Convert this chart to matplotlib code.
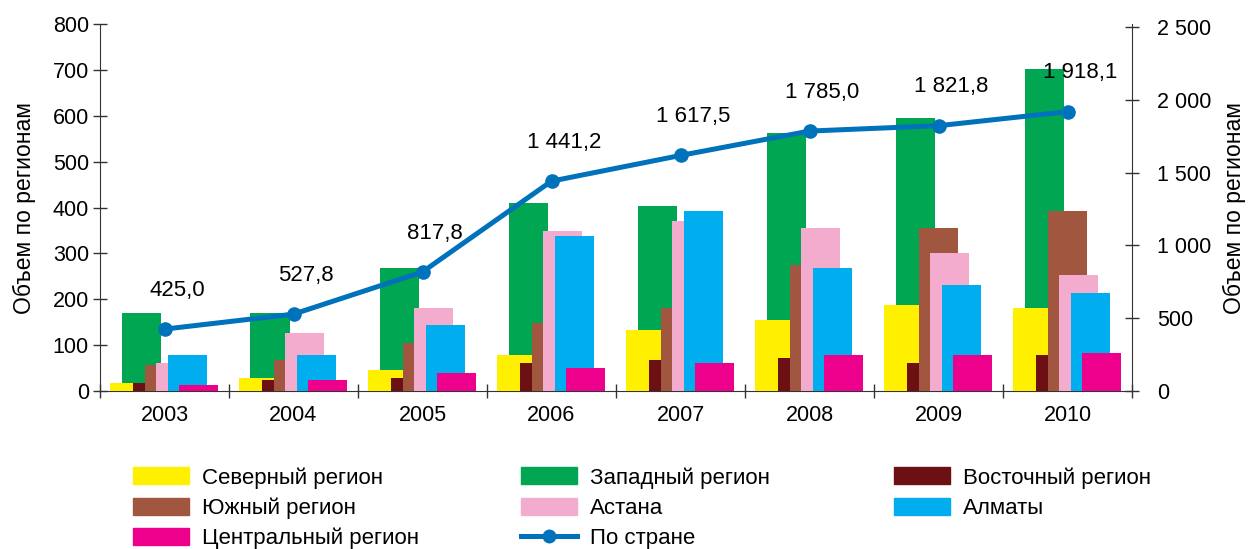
import numpy as np
import matplotlib
matplotlib.use("Agg")
import matplotlib.pyplot as plt
from matplotlib.patches import Patch
from matplotlib.lines import Line2D

plt.rcParams['font.family'] = ['Liberation Sans', 'DejaVu Sans']

years = ['2003', '2004', '2005', '2006', '2007', '2008', '2009', '2010']

# values per region
west = [170, 170, 269, 410, 404, 563, 596, 703]
north = [17, 28, 46, 79, 133, 155, 188, 181]
east = [18, 24, 28, 61, 68, 72, 61, 79]
south = [57, 68, 105, 148, 181, 275, 356, 393]
astana = [61, 127, 181, 349, 371, 356, 301, 253]
almaty = [79, 79, 144, 338, 393, 269, 231, 214]
central = [13, 24, 39, 50, 61, 79, 79, 83]
country = [425.0, 527.8, 817.8, 1441.2, 1617.5, 1785.0, 1821.8, 1918.1]

line_name = 'По стране'

colors = {
    'north': '#fff000', 'west': '#00a651', 'east': '#6d1013',
    'south': '#a1563f', 'astana': '#f4acce', 'almaty': '#00aeef',
    'central': '#ec008c',
}
labels = {
    'north': 'Северный регион', 'west': 'Западный регион', 'east': 'Восточный регион',
    'south': 'Южный регион', 'astana': 'Астана', 'almaty': 'Алматы',
    'central': 'Центральный регион',
}
line_color = '#0072bc'

fig = plt.figure(figsize=(12.5, 5.49), dpi=100)
ax = fig.add_axes([0.08, 0.2878, 0.8256, 0.6679])
ax2 = ax.twinx()

x = np.arange(len(years))
w = 39 / 129.0
step = 11.5 / 129.0
first = 10 / 129.0

# drawing order (back to front) with slot position in the group
series = [
    (west, 'west', 1),
    (north, 'north', 0),
    (east, 'east', 2),
    (south, 'south', 3),
    (astana, 'astana', 4),
    (almaty, 'almaty', 5),
    (central, 'central', 6),
]
for i, (vals, key, slot) in enumerate(series):
    ax.bar(x + first + slot * step, vals, width=w, align='edge', color=colors[key],
           linewidth=0, zorder=2 + i)

ax.set_xlim(0, len(years))
ax.set_ylim(0, 800)
ax.set_yticks(range(0, 801, 100))
ax.set_xticks(range(0, len(years) + 1))
ax.set_xticklabels([])
ax.set_xticks(x + 0.5, minor=True)
ax.set_xticklabels(years, minor=True)
ax.tick_params(axis='x', which='major', direction='inout', length=10, width=1, color='#333333')
ax.tick_params(axis='x', which='minor', length=0, pad=10, labelsize=15.5)
ax.tick_params(axis='y', direction='inout', length=10, width=1, color='#333333', pad=3, labelsize=15.5)
ax.spines['top'].set_visible(False)
ax.spines['right'].set_visible(False)
for s in ['left', 'bottom']:
    ax.spines[s].set_color('#333333')
ax.set_ylabel('Объем по регионам', fontsize=16.5, labelpad=12)

# country total on right axis
ax2.plot(x + 0.5, country, color=line_color, linewidth=3.6, marker='o',
         markersize=9.5, zorder=10)
for xi, v in zip(x + 0.5, country):
    txt = f"{v:,.1f}".replace(',', ' ').replace('.', ',')
    ax2.annotate(txt, (xi, v), xytext=(9, 28), textcoords='offset points',
                 ha='center', va='center', fontsize=16)
ax2.set_ylim(0, 2518)
rticks = list(range(0, 2501, 500))
ax2.set_yticks(rticks)
ax2.set_yticklabels([f"{t:,}".replace(',', ' ') for t in rticks])
ax2.tick_params(axis='y', direction='inout', length=10, width=1, color='#333333', pad=13, labelsize=15.5)
ax2.spines['top'].set_visible(False)
ax2.spines['left'].set_visible(False)
ax2.spines['bottom'].set_visible(False)
ax2.spines['right'].set_color('#333333')
ax2.set_ylabel('Объем по регионам', fontsize=16.5, labelpad=8)

# legend: three separate columns
line_h = Line2D([], [], color=line_color, linewidth=3.6, marker='o', markersize=9)
columns = [
    (['north', 'south', 'central'], 0.1064),
    (['west', 'astana', line_name], 0.4168),
    (['east', 'almaty'], 0.7152),
]
for keys, xpos in columns:
    hs = [line_h if k == line_name else Patch(color=colors[k]) for k in keys]
    ls = [line_name if k == line_name else labels[k] for k in keys]
    fig.legend(hs, ls, loc='upper left', bbox_to_anchor=(xpos, 0.149),
               frameon=False, fontsize=16, borderpad=0, borderaxespad=0,
               handlelength=2.5, handleheight=0.8, handletextpad=0.6,
               labelspacing=0.4)

fig.savefig('out.png', dpi=100)
